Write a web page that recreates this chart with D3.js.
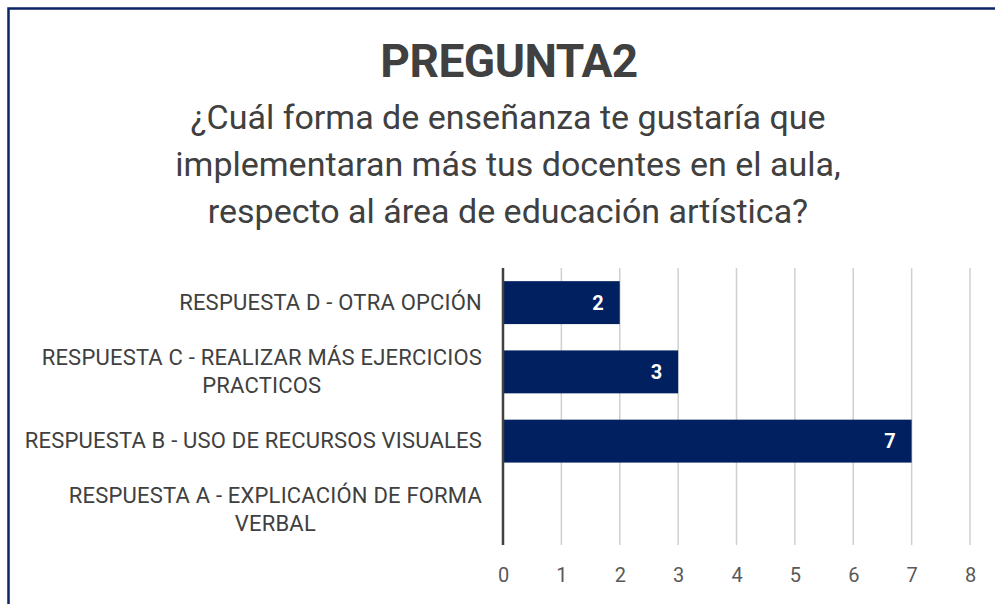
<!DOCTYPE html>
<html>
<head>
<meta charset="utf-8">
<script src="https://cdn.jsdelivr.net/npm/d3@7"></script>
<style>
  html, body { margin: 0; padding: 0; background: #fff; }
  svg { display: block; font-family: Roboto, "Noto Sans", sans-serif; }
</style>
</head>
<body>
<div id="chart"></div>
<script>
// categorías de arriba hacia abajo, tal como aparecen en la gráfica
const categories = [
    ["RESPUESTA D - OTRA OPCIÓN"],
    ["RESPUESTA C - REALIZAR MÁS EJERCICIOS", "PRACTICOS"],
    ["RESPUESTA B - USO DE RECURSOS VISUALES"],
    ["RESPUESTA A - EXPLICACIÓN DE FORMA", "VERBAL"]
];
const values = [2, 3, 7, 0];
const xTicks = [0, 1, 2, 3, 4, 5, 6, 7, 8];
const title = "PREGUNTA2";
const subtitle = [
    "¿Cuál forma de enseñanza te gustaría que",
    "implementaran más tus docentes en el aula,",
    "respecto al área de educación artística?"
];

function drawChart() {
    const W = 995, H = 604;
    const plot = { left: 503, right: 970, top: 268, bottom: 545 };

    const svg = d3.select("#chart")
        .append("svg")
        .attr("width", W)
        .attr("height", H);

    // marco del gráfico (se corta en los bordes derecho e inferior)
    svg.append("rect")
        .attr("x", 8.5)
        .attr("y", 8.5)
        .attr("width", W + 20)
        .attr("height", H + 20)
        .attr("fill", "#fff")
        .attr("stroke", "#0b2566")
        .attr("stroke-width", 2.5);

    // títulos
    svg.append("text")
        .attr("x", 509)
        .attr("y", 77)
        .attr("text-anchor", "middle")
        .attr("fill", "#404040")
        .style("font-size", "46px")
        .style("font-weight", "bold")
        .style("letter-spacing", "-0.5px")
        .text(title);

    svg.append("g")
        .selectAll("text")
        .data(subtitle)
        .join("text")
        .attr("x", 508)
        .attr("y", (d, i) => 129 + i * 47)
        .attr("text-anchor", "middle")
        .attr("fill", "#404040")
        .style("font-size", "34px")
        .text((d) => d);

    const x = d3.scaleLinear()
        .domain([0, 8])
        .range([plot.left, plot.right]);

    const y = d3.scaleBand()
        .domain(d3.range(categories.length))
        .range([plot.top, plot.bottom])
        .paddingInner(0.38)
        .paddingOuter(0.19);

    // líneas de cuadrícula verticales
    svg.append("g")
        .selectAll("line")
        .data(xTicks.slice(1))
        .join("line")
        .attr("x1", (d) => x(d))
        .attr("x2", (d) => x(d))
        .attr("y1", plot.top)
        .attr("y2", plot.bottom)
        .attr("stroke", "#d0d0d0")
        .attr("stroke-width", 1.5);

    // barras
    svg.append("g")
        .selectAll("rect")
        .data(values)
        .join("rect")
        .attr("x", x(0))
        .attr("y", (d, i) => y(i))
        .attr("width", (d) => x(d) - x(0))
        .attr("height", y.bandwidth())
        .attr("fill", "#002060");

    // etiquetas de datos
    svg.append("g")
        .selectAll("text")
        .data(values)
        .join("text")
        .attr("x", (d) => x(d) - 16)
        .attr("y", (d, i) => y(i) + y.bandwidth() / 2 + 7)
        .attr("text-anchor", "end")
        .attr("fill", "#fff")
        .style("font-size", "20px")
        .style("font-weight", "bold")
        .text((d) => (d > 0 ? d : ""));

    // eje vertical en 0
    svg.append("line")
        .attr("x1", x(0))
        .attr("x2", x(0))
        .attr("y1", plot.top)
        .attr("y2", plot.bottom)
        .attr("stroke", "#404040")
        .attr("stroke-width", 2.5);

    // eje x (solo etiquetas)
    const xAxis = svg.append("g")
        .attr("transform", `translate(0, ${plot.bottom})`)
        .call(d3.axisBottom(x).tickValues(xTicks).tickSize(0).tickPadding(23).tickFormat(d3.format("d")));
    xAxis.select(".domain").remove();
    xAxis.selectAll("text")
        .attr("fill", "#595959")
        .style("font-family", "Roboto, sans-serif")
        .style("font-size", "20px");

    // etiquetas de categorías: bloque alineado a la derecha, líneas centradas
    const labelRight = 482;
    const lineGap = 28;
    categories.forEach((lines, i) => {
        const cy = y(i) + y.bandwidth() / 2;
        const g = svg.append("g");
        const texts = g.selectAll("text")
            .data(lines)
            .join("text")
            .attr("fill", "#404040")
            .style("font-size", "22px")
            .style("letter-spacing", "0.2px")
            .attr("y", (d, k) => cy + (k - (lines.length - 1) / 2) * lineGap + 7)
            .text((d) => d);
        const widths = texts.nodes().map((n) => n.getComputedTextLength());
        const maxW = d3.max(widths);
        const centerX = labelRight - maxW / 2;
        texts.attr("x", centerX).attr("text-anchor", "middle");
    });
}

drawChart();
</script>
</body>
</html>
